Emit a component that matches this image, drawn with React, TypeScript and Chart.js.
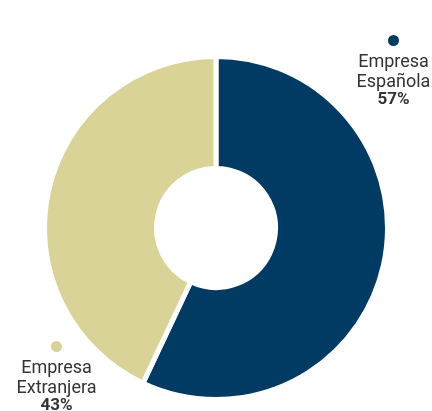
import React, { useEffect, useRef } from "react";
import { Chart, registerables } from "chart.js";

Chart.register(...registerables);

const categories = ["Empresa Española", "Empresa Extranjera"];
const labelLines = [["Empresa", "Española"], ["Empresa", "Extranjera"]];
const values = [57, 43];
const colors = ["#013a63", "#d9d398"];

// label anchor offsets relative to the doughnut centre (styling only)
const labelAnchors = [
  { dx: 177.5, dy: -187.5 },
  { dx: -159.5, dy: 118.5 },
];
const lineOffsets = [26.3, 46];
const pctOffset = 63.3;

const labelsPlugin = {
  id: "cornerLabels",
  afterDraw(chart: any) {
    const meta = chart.getDatasetMeta(0);
    const arc = meta.data[0];
    if (!arc) return;
    const { x: cx, y: cy } = arc.getProps(["x", "y"], true);
    const ctx = chart.ctx;
    ctx.save();
    ctx.textAlign = "center";
    ctx.textBaseline = "alphabetic";
    categories.forEach((_, i) => {
      const ax = cx + labelAnchors[i].dx;
      const ay = cy + labelAnchors[i].dy;
      ctx.fillStyle = colors[i];
      ctx.beginPath();
      ctx.arc(ax, ay, 5.5, 0, Math.PI * 2);
      ctx.fill();
      ctx.fillStyle = "#333333";
      ctx.font = "400 18px Roboto";
      labelLines[i].forEach((t, j) => {
        ctx.fillText(t, ax, ay + lineOffsets[j]);
      });
      ctx.font = "700 17px Roboto";
      ctx.fillText(values[i] + "%", ax, ay + pctOffset);
    });
    ctx.restore();
  },
};

export default function App() {
  const ref = useRef<HTMLCanvasElement>(null);
  useEffect(() => {
    if (!ref.current) return;
    const chart = new Chart(ref.current, {
      type: "doughnut",
      data: {
        labels: categories,
        datasets: [
          {
            data: values,
            backgroundColor: colors,
            borderColor: "#ffffff",
            borderWidth: 5,
            hoverOffset: 0,
          },
        ],
      },
      options: {
        responsive: false,
        animation: false,
        cutout: "34.7%",
        layout: { padding: { left: 42, right: 42, top: 54, bottom: 9 } },
        plugins: { legend: { display: false }, tooltip: { enabled: false } },
      },
      plugins: [labelsPlugin],
    });
    return () => chart.destroy();
  }, []);
  return (
    <div style={{ position: "fixed", left: 0, top: 0, width: 432, height: 411, background: "#fff" }}>
      <canvas ref={ref} width={432} height={411} style={{ width: 432, height: 411 }} />
    </div>
  );
}
